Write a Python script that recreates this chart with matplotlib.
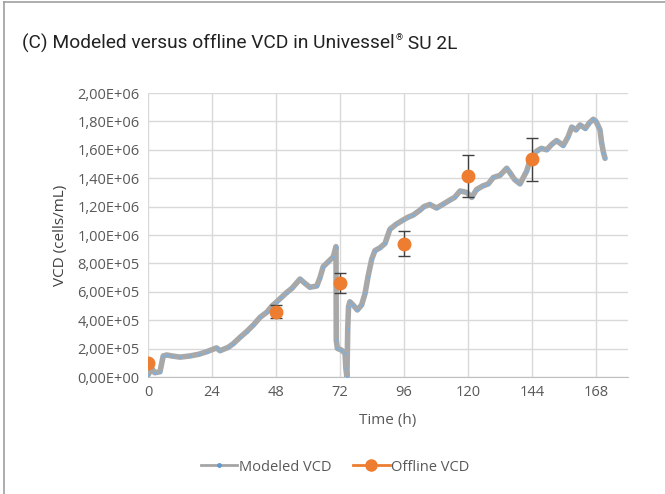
import numpy as np
import matplotlib
matplotlib.use("Agg")
import matplotlib.pyplot as plt
from matplotlib.ticker import FuncFormatter
from matplotlib.lines import Line2D

# modeled VCD (time in h, VCD in cells/mL)
t_mod = [0, 1.4, 2.5, 4.5, 5.7, 7, 9, 12, 15.7, 19, 22, 25.7, 27, 30.1, 32, 34.5, 37,
         39.5, 42, 44.5, 46.5, 48.3, 50, 52, 54, 57, 58.5, 60.7, 63.3, 64.5, 65.7, 67.5,
         69.5, 70.5, 70.6, 71, 72.5, 73.9, 74.2, 74.6, 74.9, 75.2, 75.7, 77, 78.5, 80.1,
         81.4, 82.5, 83.9, 85.1, 87, 88.9, 90.7, 93, 95.7, 97.5, 99.5, 102, 103.5, 105.7,
         108.2, 110.5, 113.2, 115, 117, 119.5, 121.4, 123.2, 125.5, 127.6, 129.5, 132,
         134.5, 135.7, 137.5, 139.5, 142, 143.5, 145.7, 147.5, 149.5, 151.5, 153.2, 155.7,
         157.5, 158.9, 160.5, 162, 164, 165.5, 167, 168, 168.9, 169.5, 170.1, 170.8, 171.4]
vcd_mod = [14, 61, 30, 37, 148, 155, 148, 140, 148, 160, 178, 205, 185, 209, 235, 279, 320,
           366, 420, 455, 500, 530, 560, 595, 625, 690, 665, 632, 641, 700, 777, 810,
           847, 918, 260, 202, 190, 167, 60, 0, 340, 495, 530, 505, 472, 507,
           589, 706, 830, 890, 910, 941, 1040, 1075, 1106, 1125, 1141, 1175, 1200, 1215,
           1190, 1215, 1246, 1265, 1310, 1300, 1265, 1320, 1345, 1360, 1405, 1420,
           1470, 1440, 1390, 1360, 1450, 1540, 1590, 1610, 1600, 1640, 1665, 1630,
           1690, 1760, 1740, 1775, 1750, 1790, 1815, 1800, 1765, 1740, 1650, 1580, 1540]
vcd_mod = [v * 1e3 for v in vcd_mod]

# offline VCD with error bars
t_off = [0, 48, 72, 96, 120, 144]
vcd_off = [1.0e5, 4.6e5, 6.6e5, 9.4e5, 1.415e6, 1.533e6]
err_off = [0, 4.5e4, 7.0e4, 9.0e4, 1.47e5, 1.50e5]

W, H = 665, 494
fig = plt.figure(figsize=(W / 100, H / 100), dpi=100)
ax = fig.add_axes([148 / W, 1 - 377 / H, 480 / W, 284 / H])

txt = '#595959'
ax.plot(t_mod, vcd_mod, color='#a8a8a8', lw=4, solid_capstyle='round', zorder=3)
ax.plot(t_mod, vcd_mod, 'o', color='#7fb0dc', ms=1.1, zorder=4)
ax.errorbar(t_off, vcd_off, yerr=err_off, fmt='o', color='#ed7d31', ms=9,
            ecolor='#404040', elinewidth=1, capsize=4, capthick=1, zorder=5)

ax.set_xlim(0, 180)
ax.set_ylim(0, 2e6)
ax.set_xticks([0, 24, 48, 72, 96, 120, 144, 168])
ax.set_yticks(np.arange(0, 2.01e6, 2e5))
ax.yaxis.set_major_formatter(FuncFormatter(lambda v, p: f"{v:.2E}".replace('.', ',')))
ax.grid(True, color='#d9d9d9', lw=1)
ax.set_axisbelow(True)
for s in ['top', 'right', 'left']:
    ax.spines[s].set_visible(False)
ax.spines['bottom'].set_color('#bfbfbf')
ax.tick_params(length=0, labelsize=10.5, labelcolor=txt, pad=6)
for lab in ax.get_xticklabels() + ax.get_yticklabels():
    lab.set_family('Open Sans')

ax.set_xlabel('Time (h)', fontsize=11, color=txt, family='Open Sans', labelpad=9)
ax.set_ylabel('VCD (cells/mL)', fontsize=11, color='#404040', family='Open Sans',
              labelpad=7)

# title in three pieces so the ® sits small and raised
tkw = dict(family='Roboto', color='#222222', va='baseline', ha='left')
renderer = fig.canvas.get_renderer()
t1 = fig.text(22 / W, 1 - 49 / H, '(C) Modeled versus offline VCD in Univessel',
              fontsize=13.8, **tkw)
x1 = t1.get_window_extent(renderer).x1
t2 = fig.text(x1 / W + 1 / W, 1 - 40 / H, '®', fontsize=6.5, **tkw)
x2 = t2.get_window_extent(renderer).x1
fig.text(x2 / W, 1 - 49 / H, ' SU 2L', fontsize=13.8, **tkw)

handles = [Line2D([], [], color='#a5a5a5', lw=2, marker='o', ms=2.5,
                  mfc='#5b9bd5', mec='#5b9bd5'),
           Line2D([], [], color='#ed7d31', lw=2, marker='o', ms=8)]
fig.legend(handles, ['Modeled VCD', 'Offline VCD'], loc='center', ncol=2,
           bbox_to_anchor=(335 / W, 1 - 467 / H), frameon=False, handlelength=2.5,
           handletextpad=0.1, columnspacing=1.5,
           prop={'family': 'Open Sans', 'size': 10.5}, labelcolor=txt)

# outer frame
fig.add_artist(Line2D([4 / W, 4 / W], [0, 1 - 2 / H], color='#a0a0a0', lw=1.2))
fig.add_artist(Line2D([4 / W, 1], [1 - 2 / H, 1 - 2 / H], color='#a0a0a0', lw=1.2))

fig.savefig('out.png', dpi=100)
